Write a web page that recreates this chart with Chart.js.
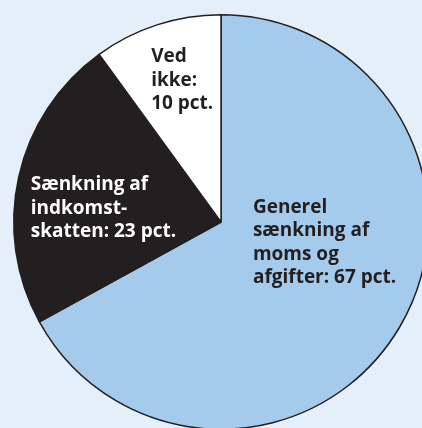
<!DOCTYPE html>
<html>
<head>
<meta charset="utf-8">
<script src="https://cdn.jsdelivr.net/npm/chart.js@4"></script>
<style>
  html, body { margin: 0; padding: 0; background: #e5eff9; overflow: hidden; }
  body { width: 422px; height: 428px; position: relative; }
  #wrap { position: absolute; left: 0; top: 0; width: 442px; height: 444px; }
</style>
</head>
<body>
<div id="wrap"><canvas id="chart"></canvas></div>
<script>
const categories = ['Generel sænkning af moms og afgifter', 'Sænkning af indkomstskatten', 'Ved ikke'];
const shares = [67, 23, 10];
const labelLines = [
  ['Generel', 'sænkning af', 'moms og', 'afgifter: 67 pct.'],
  ['Sænkning af', 'indkomst-', 'skatten: 23 pct.'],
  ['Ved', 'ikke:', '10 pct.']
];
const sliceColors = ['#a5cbec', '#231f20', '#ffffff'];
const textColors = ['#231f20', '#ffffff', '#231f20'];
// left edge and vertical centre of each text block, as fractions of the radius from the centre
const labelPos = [[0.154, 0.099], [-0.918, -0.067], [-0.337, -0.683]];

const sliceLabels = {
  id: 'sliceLabels',
  afterDatasetsDraw(chart) {
    const ctx = chart.ctx;
    const arcs = chart.getDatasetMeta(0).data;
    ctx.save();
    ctx.font = 'bold 19px "Open Sans", sans-serif';
    ctx.textAlign = 'left';
    ctx.textBaseline = 'middle';
    const lh = 23.5;
    arcs.forEach((arc, i) => {
      const { x, y, outerRadius } = arc.getProps(['x', 'y', 'outerRadius'], true);
      const lines = labelLines[i];
      const lx = x + labelPos[i][0] * outerRadius;
      const cy = y + labelPos[i][1] * outerRadius;
      ctx.fillStyle = textColors[i];
      lines.forEach((t, k) => {
        ctx.fillText(t, lx, cy + (k - (lines.length - 1) / 2) * lh);
      });
    });
    ctx.restore();
  }
};

new Chart(document.getElementById('chart'), {
  type: 'pie',
  data: {
    labels: categories,
    datasets: [{
      data: shares,
      backgroundColor: sliceColors,
      borderColor: '#231f20',
      borderWidth: 1.5
    }]
  },
  options: {
    responsive: true,
    maintainAspectRatio: false,
    animation: false,
    layout: { padding: 13 },
    plugins: {
      legend: { display: false },
      tooltip: { enabled: false }
    }
  },
  plugins: [sliceLabels]
});
</script>
</body>
</html>
